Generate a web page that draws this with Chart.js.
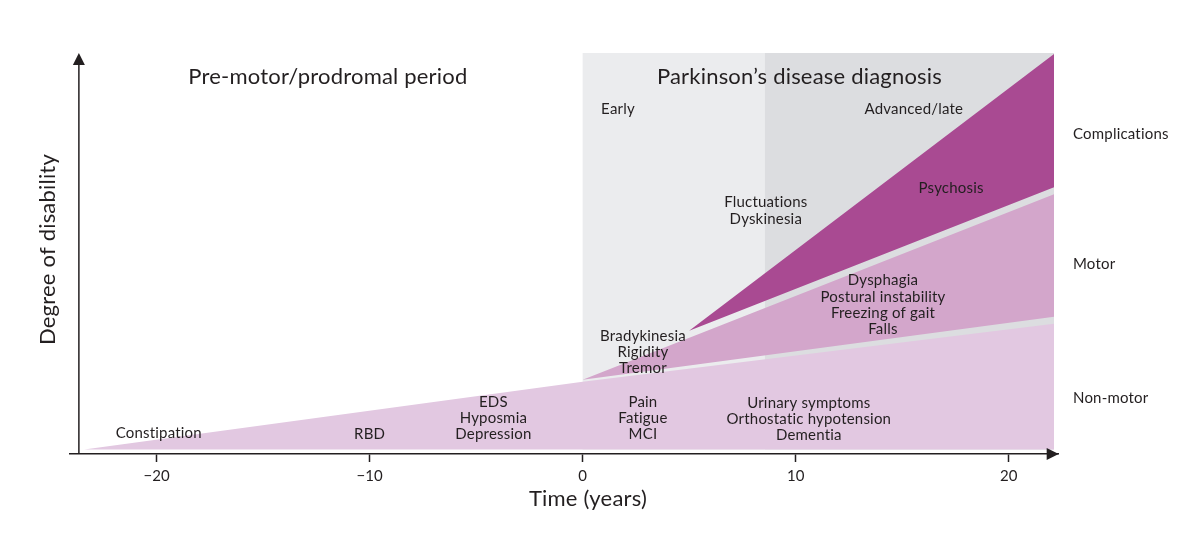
<!DOCTYPE html>
<html>
<head>
<meta charset="utf-8">
<script src="https://cdn.jsdelivr.net/npm/chart.js@4.4.1/dist/chart.umd.min.js"></script>
<style>
  html, body { margin: 0; padding: 0; background: #fff; }
  #wrap { width: 1200px; height: 533px; }
</style>
</head>
<body>
<div id="wrap"><canvas id="chart"></canvas></div>
<script>
// time axis (years from diagnosis)
const xTicks = [-20, -10, 0, 10, 20];

// band outlines: x = years, y = degree of disability (0-100)
const nonMotorX = [-23.4, 0, 22.13, 22.13, -23.4];
const nonMotorY = [1.1, 18, 32.5, 1.1, 1.1];
const motorX = [0, 22.13, 22.13, 0];
const motorY = [18.5, 64.75, 34.25, 18.5];
const complX = [5, 22.13, 22.13, 5];
const complY = [30.75, 99.75, 66.5, 30.75];

// shaded phases after diagnosis
const earlyX = [0, 8.56, 8.56, 0, 0];
const earlyY = [1.1, 1.1, 100, 100, 1.1];
const lateX = [8.56, 22.13, 22.13, 8.56, 8.56];
const lateY = [1.1, 1.1, 100, 100, 1.1];

// annotations inside the plot
const noteText = [
  ['Pre-motor/prodromal period'],
  ['Parkinson’s disease diagnosis'],
  ['Early'],
  ['Advanced/late'],
  ['Fluctuations', 'Dyskinesia'],
  ['Psychosis'],
  ['Dysphagia', 'Postural instability', 'Freezing of gait', 'Falls'],
  ['Bradykinesia', 'Rigidity', 'Tremor'],
  ['Pain', 'Fatigue', 'MCI'],
  ['Urinary symptoms', 'Orthostatic hypotension', 'Dementia'],
  ['EDS', 'Hyposmia', 'Depression'],
  ['RBD'],
  ['Constipation'],
];
const noteX = [-11.96, 10.18, 1.66, 15.55, 8.6, 17.3, 14.1, 2.83, 2.83, 10.62, -4.19, -10.0, -19.9];
const noteY = [94, 94, 86, 86, 62.75, 66.25, 43.25, 29.5, 13, 12.75, 13, 5, 5.25];

// category names on the right
const sideText = ['Complications', 'Motor', 'Non-motor'];
const sideY = [79.75, 47.25, 14];

const FONT = 'Lato, "Noto Sans", sans-serif';
const INK = '#231f20';

function toPoints(xs, ys) {
  return xs.map((x, i) => ({ x: x, y: ys[i] }));
}

function band(label, xs, ys, color) {
  return {
    label: label,
    data: toPoints(xs, ys),
    showLine: true,
    fill: 'shape',
    backgroundColor: color,
    borderWidth: 0,
    borderColor: 'rgba(0,0,0,0)',
    pointRadius: 0,
    tension: 0,
  };
}

const decorations = {
  id: 'decorations',
  afterDraw(chart) {
    const { ctx, scales: { x, y } } = chart;
    ctx.save();

    // y axis with arrow
    const ax = x.getPixelForValue(-23.65);
    const y0 = y.getPixelForValue(0);
    const yTop = y.getPixelForValue(100);
    ctx.strokeStyle = INK;
    ctx.fillStyle = INK;
    ctx.lineWidth = 1.5;
    ctx.beginPath();
    ctx.moveTo(ax, y0);
    ctx.lineTo(ax, yTop + 8);
    ctx.stroke();
    ctx.beginPath();
    ctx.moveTo(ax, yTop);
    ctx.lineTo(ax - 6, yTop + 12);
    ctx.lineTo(ax + 6, yTop + 12);
    ctx.closePath();
    ctx.fill();

    // x axis arrow head
    const xr = x.right;
    ctx.beginPath();
    ctx.moveTo(xr, y0);
    ctx.lineTo(xr - 12, y0 - 6);
    ctx.lineTo(xr - 12, y0 + 6);
    ctx.closePath();
    ctx.fill();

    // no ligatures, like the original lettering
    if ('letterSpacing' in ctx) ctx.letterSpacing = '0.2px';

    // axis titles
    ctx.textAlign = 'center';
    ctx.textBaseline = 'middle';
    ctx.font = '22px ' + FONT;
    ctx.fillText('Time (years)', x.getPixelForValue(0.25), y0 + 45);
    ctx.save();
    ctx.translate(48, (y0 + yTop) / 2 - 4);
    ctx.rotate(-Math.PI / 2);
    ctx.fillText('Degree of disability', 0, 0);
    ctx.restore();

    // annotations
    noteText.forEach((lines, i) => {
      ctx.font = (i < 2 ? '22px ' : '15px ') + FONT;
      const px = x.getPixelForValue(noteX[i]);
      const py = y.getPixelForValue(noteY[i]);
      lines.forEach((t, j) => ctx.fillText(t, px, py + j * 16.3));
    });

    ctx.textAlign = 'left';
    ctx.font = '15px ' + FONT;
    sideText.forEach((t, i) => {
      ctx.fillText(t, x.getPixelForValue(23.02), y.getPixelForValue(sideY[i]));
    });
    ctx.restore();
  }
};

const ctx = document.getElementById('chart').getContext('2d');
new Chart(ctx, {
  type: 'scatter',
  data: {
    datasets: [
      band('Complications', complX, complY, '#a94a92'),
      band('Motor', motorX, motorY, '#d3a6cb'),
      band('Non-motor', nonMotorX, nonMotorY, '#e2c8e1'),
      band('Advanced/late', lateX, lateY, '#dcdde0'),
      band('Early', earlyX, earlyY, '#ebecee'),
    ]
  },
  options: {
    responsive: true,
    maintainAspectRatio: false,
    animation: false,
    layout: { padding: { left: 69.3, right: 141.3, top: 53, bottom: 43 } },
    plugins: {
      legend: { display: false },
      tooltip: { enabled: false },
    },
    scales: {
      x: {
        type: 'linear',
        min: -24.1,
        max: 22.35,
        afterBuildTicks: s => { s.ticks = xTicks.map(v => ({ value: v })); },
        ticks: {
          color: INK,
          font: { family: FONT, size: 15 },
          padding: 5,
          callback: v => (v < 0 ? '−' + Math.abs(v) : String(v)),
        },
        grid: {
          drawOnChartArea: false,
          drawTicks: true,
          tickLength: 8,
          tickColor: INK,
          tickWidth: 1.5,
        },
        border: { display: true, color: INK, width: 1.5 },
      },
      y: {
        display: false,
        min: 0,
        max: 100,
      }
    }
  },
  plugins: [decorations]
});
</script>
</body>
</html>
